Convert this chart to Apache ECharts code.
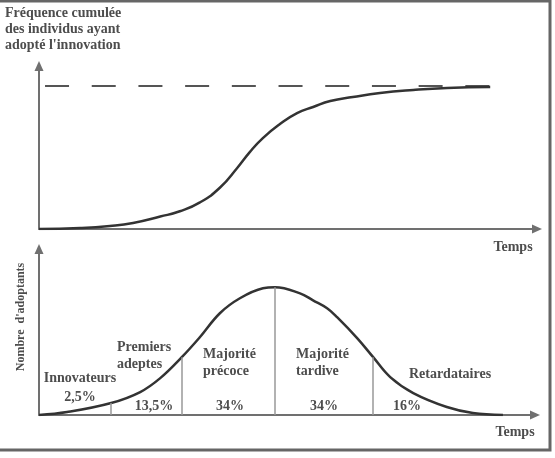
<!DOCTYPE html>
<html>
<head>
<meta charset="utf-8">
<script src="https://cdn.jsdelivr.net/npm/echarts@6/dist/echarts.min.js"></script>
<style>
  html, body { margin: 0; padding: 0; background: #fff; }
  #chart { width: 555px; height: 458px; }
</style>
</head>
<body>
<div id="chart"></div>
<script>
// courbe cumulée (temps, % de la population ayant adopté)
var cumTime = [0, 8.2, 14.1, 18.7, 24.1, 28.0, 32.0, 36.0, 39.4, 41.9, 44.5, 47.9, 51.3, 54.5, 57.9, 62.4, 67.8, 74.4, 81.1, 89.7];
var cumValue = [0, 0.7, 2.1, 4.2, 8.7, 12.4, 18.6, 29.0, 42.7, 53.8, 63.6, 73.4, 81.1, 85.3, 89.5, 92.3, 95.1, 97.2, 98.6, 99.3];
var plateau = [[1.2, 100], [89.7, 100]];

// courbe en cloche (temps, nombre d'adoptants)
var bellTime = [0, 5.6, 14.4, 20.2, 24.2, 28.5, 32.1, 36.1, 40.1, 44.7, 47.1, 52.1, 54.7, 57.5, 59.5, 63.5, 66.7, 70.1, 74.7, 81.4, 86.6, 92.6];
var bellValue = [0, 2.3, 9.4, 18.0, 28.9, 45.3, 60.9, 79.7, 91.4, 99.2, 100, 95.3, 89.8, 83.6, 76.6, 60.2, 45.3, 29.7, 17.2, 6.3, 1.6, 0];

// limites entre les catégories
var dividerTime = [14.4, 28.5, 47.1, 66.7];
var dividerValue = [9.4, 45.3, 100, 45.3];

var segments = ['Innovateurs', 'Premiers adeptes', 'Majorité précoce', 'Majorité tardive', 'Retardataires'];
var shares = ['2,5%', '13,5%', '34%', '34%', '16%'];

var chart = echarts.init(document.getElementById('chart'));

function zip(a, b) {
  return a.map(function (v, i) { return [v, b[i]]; });
}

var axisColor = '#707070';
var textColor = '#4d4d4d';
var serif = '"Liberation Serif", "DejaVu Serif", serif';

function plainAxis(max, gridIndex) {
  return {
    type: 'value', min: 0, max: max, gridIndex: gridIndex,
    axisLine: { show: true, lineStyle: { color: axisColor, width: 2 }, symbol: ['none', 'triangle'], symbolSize: [9, 10] },
    axisTick: { show: false },
    axisLabel: { show: false },
    splitLine: { show: false }
  };
}

function txt(text, x, y, align, size, rotation) {
  return {
    type: 'text', x: x, y: y, rotation: rotation || 0,
    style: {
      text: text, fontFamily: serif, fontWeight: 'bold', fontSize: size || 14,
      fill: textColor, textAlign: align || 'center', textVerticalAlign: 'middle'
    }
  };
}

var dividerLines = dividerTime.map(function (t, i) {
  return [{ coord: [t, 0] }, { coord: [t, dividerValue[i]] }];
});

var option = {
  animation: false,
  grid: [
    { left: 39, top: 66, width: 498, height: 163 },
    { left: 39, top: 249, width: 496, height: 166 }
  ],
  xAxis: [plainAxis(99, 0), plainAxis(99, 1)],
  yAxis: [plainAxis(114, 0), plainAxis(130, 1)],
  series: [
    {
      type: 'line', xAxisIndex: 0, yAxisIndex: 0,
      data: plateau, symbol: 'none',
      lineStyle: { color: '#555', width: 2, type: [24, 22.7] }
    },
    {
      type: 'line', xAxisIndex: 0, yAxisIndex: 0,
      data: zip(cumTime, cumValue), smooth: 0.5, symbol: 'none',
      lineStyle: { color: '#333', width: 2.5 }
    },
    {
      type: 'line', xAxisIndex: 1, yAxisIndex: 1,
      data: zip(bellTime, bellValue), smooth: 0.4, symbol: 'none',
      lineStyle: { color: '#333', width: 2.5 },
      markLine: {
        silent: true, symbol: 'none', label: { show: false },
        lineStyle: { color: '#999', width: 1.5, type: 'solid' },
        data: dividerLines
      }
    }
  ],
  graphic: [
    {
      type: 'rect', shape: { x: -2, y: 1, width: 552, height: 449 },
      style: { fill: 'none', stroke: '#666', lineWidth: 3 }
    },
    txt('Fréquence cumulée', 5, 13, 'left'),
    txt('des individus ayant', 5, 29, 'left'),
    txt('adopté l\'innovation', 5, 45, 'left'),
    txt('Temps', 513, 247),
    txt('Temps', 515, 432),
    txt('Nombre  d\'adoptants', 21, 317, 'center', 12, Math.PI / 2),
    txt(segments[0], 80, 378),
    txt(shares[0], 80, 397),
    txt('Premiers', 117, 347, 'left'),
    txt('adeptes', 117, 364, 'left'),
    txt(shares[1], 154, 406),
    txt('Majorité', 203, 354, 'left'),
    txt('précoce', 203, 371, 'left'),
    txt(shares[2], 230, 406),
    txt('Majorité', 296, 354, 'left'),
    txt('tardive', 296, 371, 'left'),
    txt(shares[3], 324, 406),
    txt(segments[4], 450, 374),
    txt(shares[4], 407, 406)
  ]
};

chart.setOption(option);
</script>
</body>
</html>
